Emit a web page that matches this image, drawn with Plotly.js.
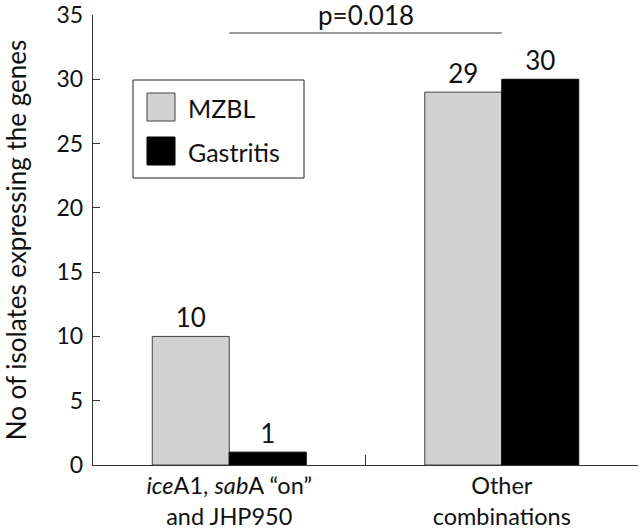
<!DOCTYPE html>
<html>
<head>
<meta charset="utf-8">
<script src="https://cdn.plot.ly/plotly-3.0.1.min.js"></script>
<style>html,body{margin:0;padding:0;background:#fff;}#chart{width:640px;height:532px;}</style>
</head>
<body>
<div id="chart"></div>
<script>
const categories = ['iceA1, sabA “on”<br>and JHP950', 'Other<br>combinations'];
const categoryLabels = ['<i>ice</i>A1, <i>sab</i>A “on”<br>and JHP950', 'Other<br>combinations'];
const seriesNames = ['MZBL', 'Gastritis'];
const mzbl = [10, 29];
const gastritis = [1, 30];
const seriesColors = ['#d2d2d2', '#000000'];
const pValueText = 'p=0.018';
const pValueLevel = 33.6;
const yTitle = 'No of isolates expressing the genes';

const FONT = 'Lato, "DejaVu Sans", sans-serif';

const traces = [mzbl, gastritis].map((vals, i) => ({
  type: 'bar',
  name: seriesNames[i],
  x: categories,
  y: vals,
  text: vals.map(String),
  textposition: 'outside',
  textfont: {family: FONT, size: 26, color: '#111'},
  cliponaxis: false,
  marker: {color: seriesColors[i], line: {color: i === 0 ? '#444' : '#000', width: 1}},
  showlegend: false,
  hoverinfo: 'none'
}));

const toPX = (px) => (px - 93) / 545;
const toPY = (py) => (465 - py) / 450;

const shapes = [
  {type: 'line', xref: 'x', yref: 'y', x0: categories[0], x1: categories[1], y0: pValueLevel, y1: pValueLevel,
   line: {color: '#333', width: 1.2}},
  {type: 'rect', xref: 'paper', yref: 'paper', x0: toPX(133), x1: toPX(304), y0: toPY(178), y1: toPY(80),
   line: {color: '#222', width: 1}, fillcolor: 'rgba(0,0,0,0)'},
  {type: 'rect', xref: 'paper', yref: 'paper', x0: toPX(147), x1: toPX(175), y0: toPY(121), y1: toPY(93),
   line: {color: '#444', width: 1}, fillcolor: seriesColors[0]},
  {type: 'rect', xref: 'paper', yref: 'paper', x0: toPX(147), x1: toPX(175), y0: toPY(165), y1: toPY(137),
   line: {color: '#000', width: 1}, fillcolor: seriesColors[1]}
];

const annotations = [
  {xref: 'paper', yref: 'y', x: 0.5, y: pValueLevel, text: pValueText, showarrow: false,
   yanchor: 'bottom', yshift: 0, font: {family: FONT, size: 26, color: '#111'}},
  {xref: 'paper', yref: 'paper', x: toPX(186), y: toPY(108), text: seriesNames[0], showarrow: false,
   xanchor: 'left', yanchor: 'middle', font: {family: FONT, size: 25, color: '#111'}},
  {xref: 'paper', yref: 'paper', x: toPX(186), y: toPY(152), text: seriesNames[1], showarrow: false,
   xanchor: 'left', yanchor: 'middle', font: {family: FONT, size: 25, color: '#111'}}
];

const layout = {
  width: 640, height: 532,
  margin: {l: 93, r: 2, t: 15, b: 67, pad: 0},
  paper_bgcolor: '#fff', plot_bgcolor: '#fff',
  font: {family: FONT, size: 22, color: '#111'},
  barmode: 'group',
  bargap: 0.435,
  bargroupgap: 0,
  xaxis: {
    type: 'category',
    range: [-0.5, 1.5],
    tickmode: 'array',
    tickvals: categories,
    ticktext: categoryLabels,
    tickson: 'boundaries',
    ticks: 'inside', ticklen: 10, tickcolor: '#333', tickwidth: 1.2,
    showline: true, linecolor: '#333', linewidth: 1.2,
    showgrid: false, zeroline: false,
    ticklabelstandoff: 0,
    tickfont: {family: FONT, size: 23.5, color: '#111'}
  },
  yaxis: {
    range: [0, 35], dtick: 5, tick0: 0,
    ticks: 'inside', ticklen: 7, tickcolor: '#333', tickwidth: 1.2,
    showline: true, linecolor: '#333', linewidth: 1.2,
    showgrid: false, zeroline: false,
    ticklabelstandoff: 4,
    tickfont: {family: FONT, size: 23, color: '#111'},
    title: {text: yTitle, font: {family: FONT, size: 26, color: '#111'}, standoff: 24}
  },
  shapes: shapes,
  annotations: annotations
};

Plotly.newPlot('chart', traces, layout, {staticPlot: true, displayModeBar: false});
</script>
</body>
</html>
